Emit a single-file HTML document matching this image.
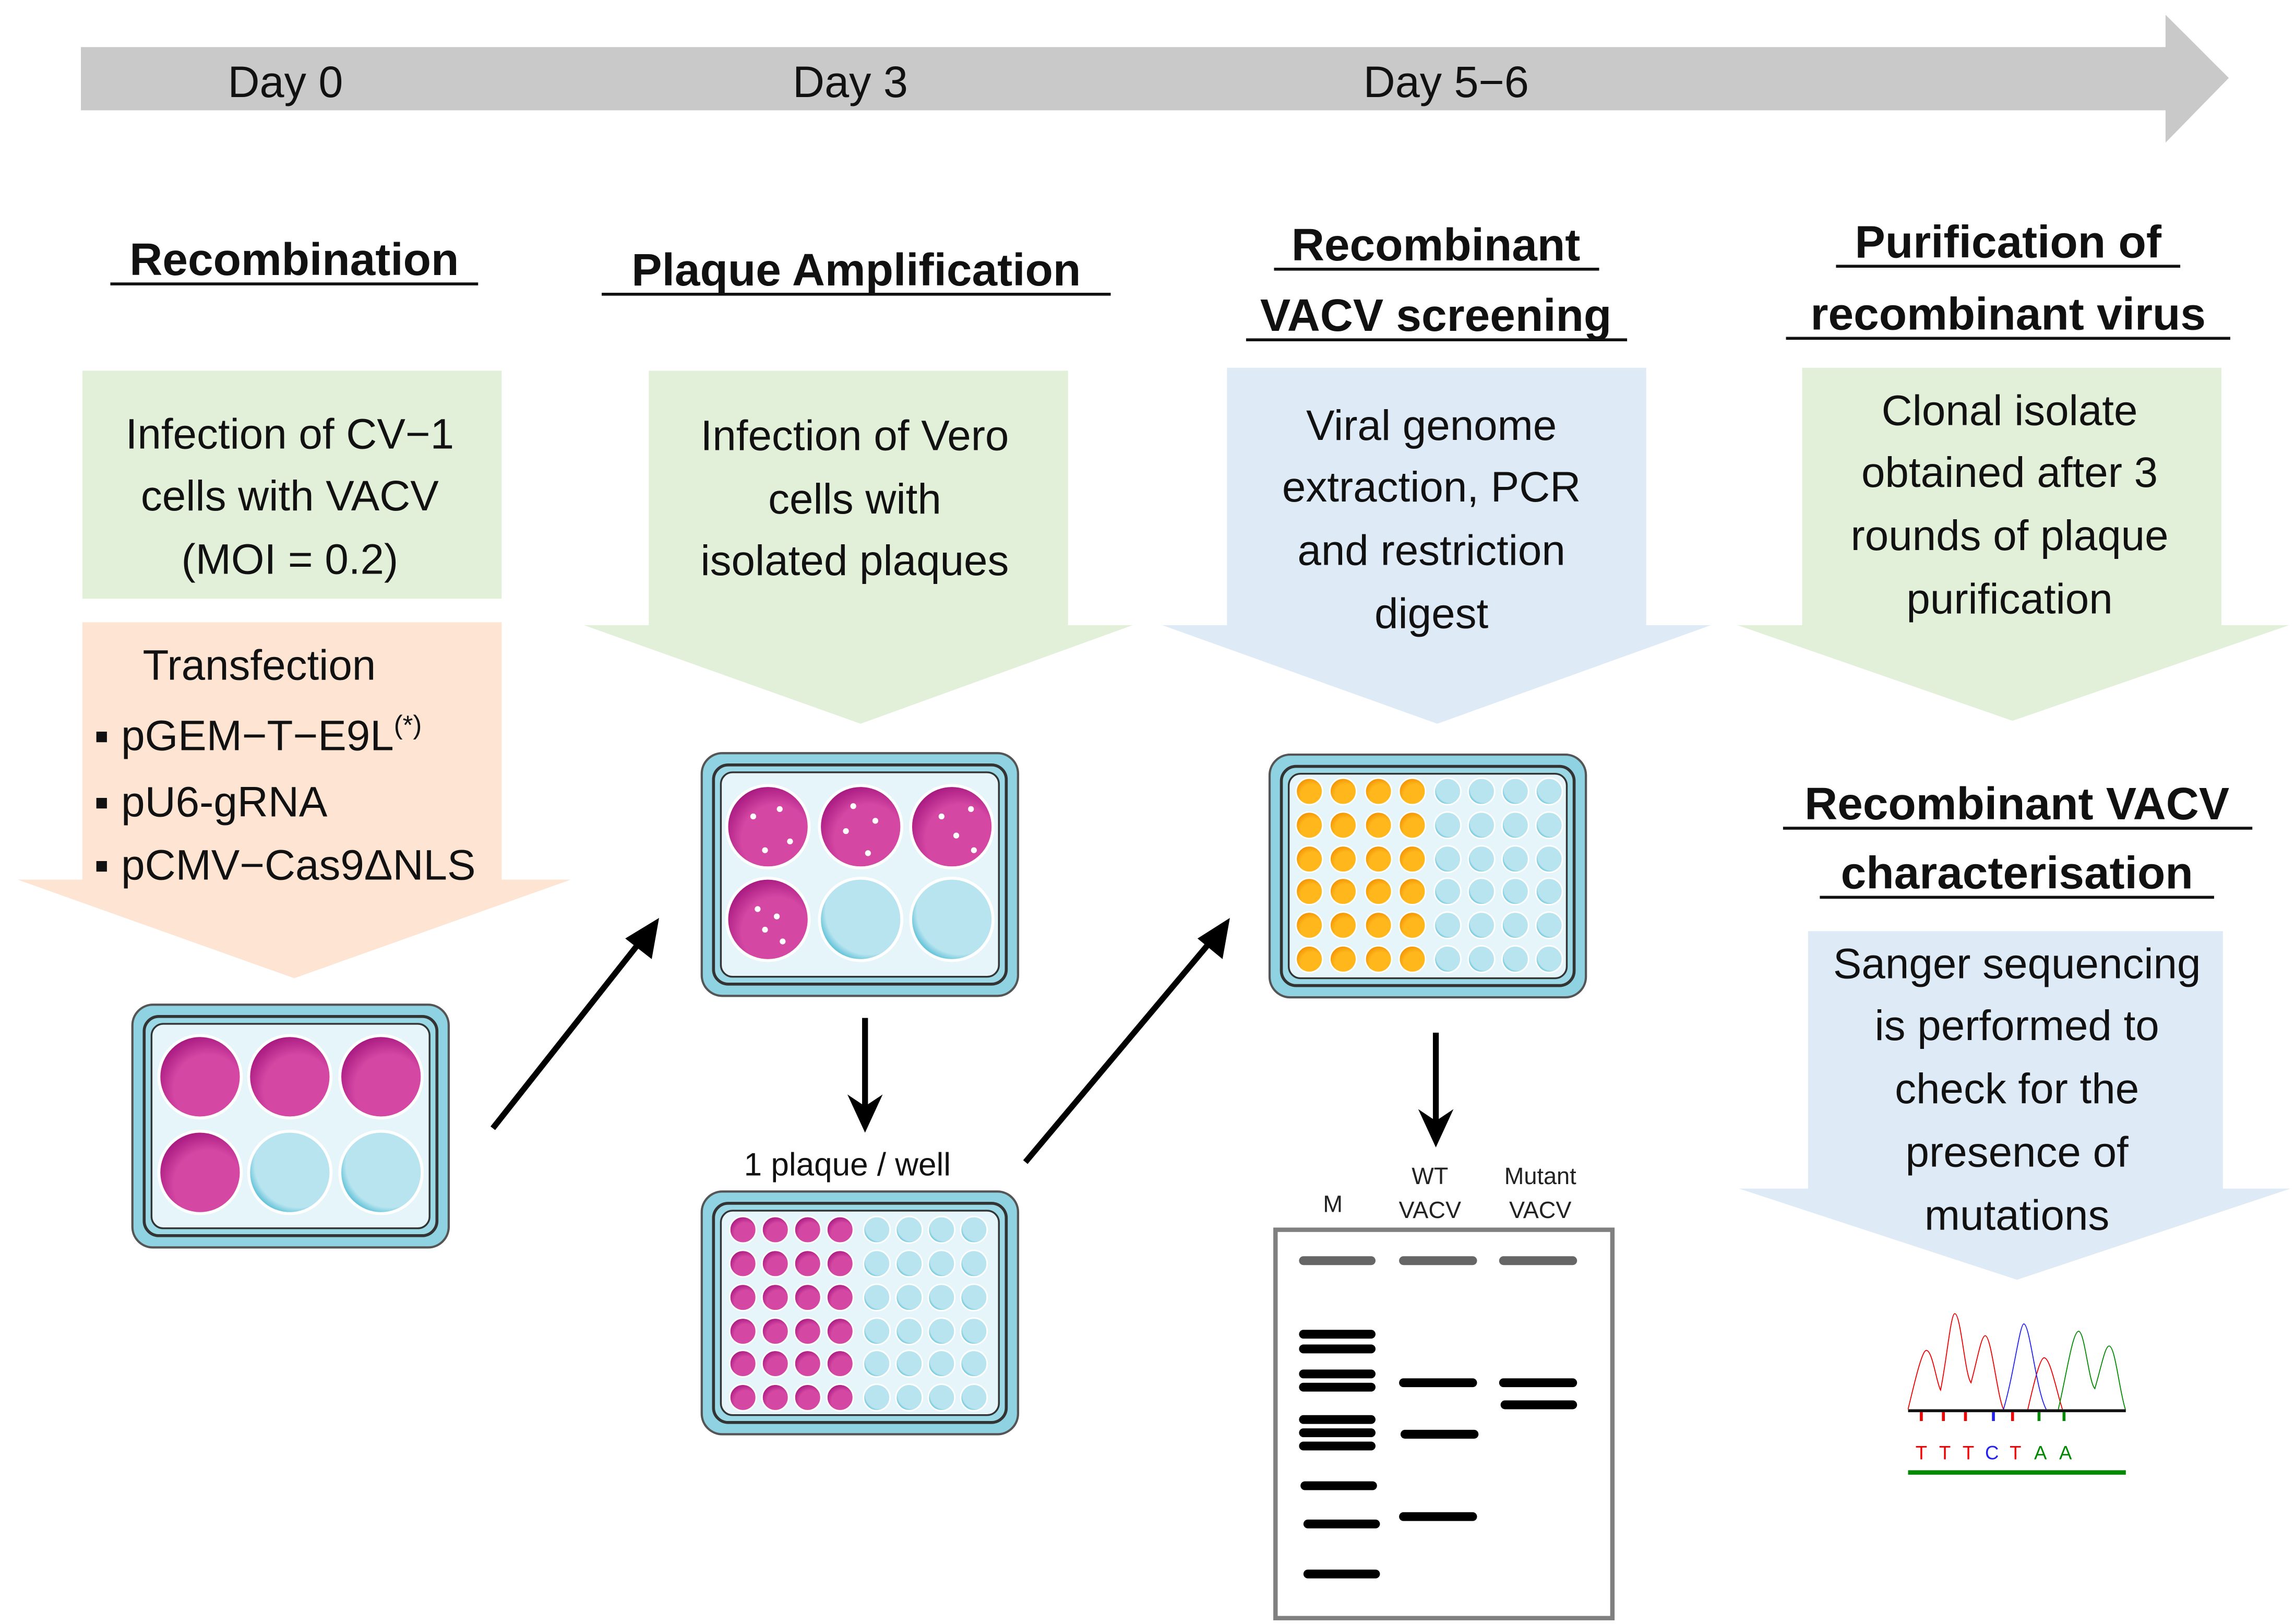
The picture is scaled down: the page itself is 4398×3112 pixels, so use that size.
<!DOCTYPE html>
<html><head><meta charset="utf-8"><style>html,body{margin:0;padding:0;background:#fff}svg{display:block}</style></head>
<body>
<svg width="4398" height="3112" viewBox="0 0 1560 1104" preserveAspectRatio="none" xmlns="http://www.w3.org/2000/svg" font-family="Liberation Sans, sans-serif">
<defs>
<radialGradient id="pk" cx="0.6" cy="0.65" r="0.7"><stop offset="0.6" stop-color="#d447a3"/><stop offset="1" stop-color="#a0127a"/></radialGradient>
<radialGradient id="bl" cx="0.6" cy="0.4" r="0.7"><stop offset="0.75" stop-color="#b8e4ef"/><stop offset="1" stop-color="#1aa7c6"/></radialGradient>
<radialGradient id="or" cx="0.6" cy="0.65" r="0.7"><stop offset="0.6" stop-color="#ffb71c"/><stop offset="1" stop-color="#f08c00"/></radialGradient>
<g id="plate6">
<rect x="0" y="0" width="215" height="165" rx="14" fill="#8fd3e3" stroke="#555" stroke-width="1.5"/>
<rect x="8" y="8" width="199" height="149" rx="10" fill="#9ad8e6" stroke="#333" stroke-width="2"/>
<rect x="13" y="13" width="189" height="139" rx="8" fill="#e6f5f9" stroke="#333" stroke-width="1.2"/>
</g>
</defs>

<!-- timeline -->
<polygon points="55,32 1472,32 1472,10 1515,53 1472,97 1472,75 55,75" fill="#c9c9c9"/>
<g font-size="30" fill="#111" text-anchor="middle">
<text x="194" y="66">Day 0</text><text x="578" y="66">Day 3</text><text x="983" y="66">Day 5−6</text>
</g>

<!-- titles -->
<g font-size="31" font-weight="bold" fill="#111" text-anchor="middle">
<text x="200" y="187">Recombination</text>
<text x="582" y="194">Plaque Amplification</text>
<text x="976" y="177">Recombinant</text>
<text x="976" y="225">VACV screening</text>
<text x="1365" y="175">Purification of</text>
<text x="1365" y="224">recombinant virus</text>
<text x="1371" y="557">Recombinant VACV</text>
<text x="1371" y="604">characterisation</text>
</g>
<g stroke="#111" stroke-width="2">
<line x1="75" y1="193" x2="325" y2="193"/>
<line x1="409" y1="200" x2="755" y2="200"/>
<line x1="866" y1="183" x2="1087" y2="183"/>
<line x1="847" y1="231" x2="1106" y2="231"/>
<line x1="1248" y1="181" x2="1482" y2="181"/>
<line x1="1214" y1="230" x2="1516" y2="230"/>
<line x1="1212" y1="563" x2="1531" y2="563"/>
<line x1="1237" y1="610" x2="1505" y2="610"/>
</g>

<!-- boxes / arrows -->
<rect x="56" y="252" width="285" height="155" fill="#e2f0d9"/>
<polygon points="56,423 341,423 341,598 388,598 200,665 12,598 56,598" fill="#fde4d3"/>
<polygon points="441,252 726,252 726,425 770,425 585,492 397,425 441,425" fill="#e2f0d9"/>
<polygon points="834,250 1119,250 1119,425 1163,425 977,492 790,425 834,425" fill="#deebf7"/>
<polygon points="1225,250 1510,250 1510,425 1556,425 1368,490 1181,425 1225,425" fill="#e2f0d9"/>
<polygon points="1229,633 1511,633 1511,808 1557,808 1371,870 1182,808 1229,808" fill="#deebf7"/>

<g font-size="29" fill="#111" text-anchor="middle">
<text x="197" y="305">Infection of CV−1</text><text x="197" y="347">cells with VACV</text><text x="197" y="390">(MOI = 0.2)</text>
<text x="581" y="306">Infection of Vero</text><text x="581" y="349">cells with</text><text x="581" y="391">isolated plaques</text>
<text x="973" y="299">Viral genome</text><text x="973" y="341">extraction, PCR</text><text x="973" y="384">and restriction</text><text x="973" y="427">digest</text>
<text x="1366" y="289">Clonal isolate</text><text x="1366" y="331">obtained after 3</text><text x="1366" y="374">rounds of plaque</text><text x="1366" y="417">purification</text>
<text x="1371" y="665">Sanger sequencing</text><text x="1371" y="707">is performed to</text><text x="1371" y="750">check for the</text><text x="1371" y="793">presence of</text><text x="1371" y="836">mutations</text>
</g>
<g font-size="29" fill="#111">
<text x="97" y="462">Transfection</text>
<text x="64" y="510">▪ pGEM−T−E9L<tspan font-size="18" dy="-11">(*)</tspan></text>
<text x="64" y="555">▪ pU6-gRNA</text>
<text x="64" y="598">▪ pCMV−Cas9ΔNLS</text>
</g>

<!-- plates -->
<use href="#plate6" x="90" y="683"/>
<g stroke="#fff" stroke-width="2">
<circle cx="136" cy="732" r="28" fill="url(#pk)"/><circle cx="197" cy="732" r="28" fill="url(#pk)"/><circle cx="259" cy="732" r="28" fill="url(#pk)"/>
<circle cx="136" cy="797" r="28" fill="url(#pk)"/><circle cx="197" cy="797" r="28" fill="url(#bl)"/><circle cx="259" cy="797" r="28" fill="url(#bl)"/>
</g>
<use href="#plate6" x="477" y="512"/>
<g stroke="#fff" stroke-width="2">
<circle cx="522" cy="562" r="28" fill="url(#pk)"/><circle cx="585" cy="562" r="28" fill="url(#pk)"/><circle cx="647" cy="562" r="28" fill="url(#pk)"/>
<circle cx="522" cy="625" r="28" fill="url(#pk)"/><circle cx="585" cy="625" r="28" fill="url(#bl)"/><circle cx="647" cy="625" r="28" fill="url(#bl)"/>
</g>
<g fill="#fff">
<circle cx="512" cy="555" r="2"/><circle cx="530" cy="550" r="2"/><circle cx="537" cy="572" r="2"/><circle cx="520" cy="578" r="2"/>
<circle cx="580" cy="548" r="2"/><circle cx="575" cy="565" r="2"/><circle cx="595" cy="558" r="2"/><circle cx="590" cy="580" r="2"/>
<circle cx="640" cy="555" r="2"/><circle cx="660" cy="550" r="2"/><circle cx="650" cy="568" r="2"/><circle cx="662" cy="578" r="2"/>
<circle cx="515" cy="618" r="2"/><circle cx="528" cy="623" r="2"/><circle cx="520" cy="632" r="2"/><circle cx="532" cy="640" r="2"/>
</g>
<use href="#plate6" x="477" y="810"/>
<g stroke="#fff" stroke-width="1">
<g fill="url(#pk)">
<circle cx="505" cy="836" r="9"/><circle cx="527" cy="836" r="9"/><circle cx="549" cy="836" r="9"/><circle cx="571" cy="836" r="9"/>
<circle cx="505" cy="859" r="9"/><circle cx="527" cy="859" r="9"/><circle cx="549" cy="859" r="9"/><circle cx="571" cy="859" r="9"/>
<circle cx="505" cy="882" r="9"/><circle cx="527" cy="882" r="9"/><circle cx="549" cy="882" r="9"/><circle cx="571" cy="882" r="9"/>
<circle cx="505" cy="905" r="9"/><circle cx="527" cy="905" r="9"/><circle cx="549" cy="905" r="9"/><circle cx="571" cy="905" r="9"/>
<circle cx="505" cy="927" r="9"/><circle cx="527" cy="927" r="9"/><circle cx="549" cy="927" r="9"/><circle cx="571" cy="927" r="9"/>
<circle cx="505" cy="950" r="9"/><circle cx="527" cy="950" r="9"/><circle cx="549" cy="950" r="9"/><circle cx="571" cy="950" r="9"/>
</g>
<g fill="url(#bl)">
<circle cx="596" cy="836" r="9"/><circle cx="618" cy="836" r="9"/><circle cx="640" cy="836" r="9"/><circle cx="662" cy="836" r="9"/>
<circle cx="596" cy="859" r="9"/><circle cx="618" cy="859" r="9"/><circle cx="640" cy="859" r="9"/><circle cx="662" cy="859" r="9"/>
<circle cx="596" cy="882" r="9"/><circle cx="618" cy="882" r="9"/><circle cx="640" cy="882" r="9"/><circle cx="662" cy="882" r="9"/>
<circle cx="596" cy="905" r="9"/><circle cx="618" cy="905" r="9"/><circle cx="640" cy="905" r="9"/><circle cx="662" cy="905" r="9"/>
<circle cx="596" cy="927" r="9"/><circle cx="618" cy="927" r="9"/><circle cx="640" cy="927" r="9"/><circle cx="662" cy="927" r="9"/>
<circle cx="596" cy="950" r="9"/><circle cx="618" cy="950" r="9"/><circle cx="640" cy="950" r="9"/><circle cx="662" cy="950" r="9"/>
</g>
</g>
<use href="#plate6" x="863" y="513"/>
<g stroke="#fff" stroke-width="1">
<g fill="url(#or)">
<circle cx="890" cy="538" r="9"/><circle cx="913" cy="538" r="9"/><circle cx="937" cy="538" r="9"/><circle cx="960" cy="538" r="9"/>
<circle cx="890" cy="561" r="9"/><circle cx="913" cy="561" r="9"/><circle cx="937" cy="561" r="9"/><circle cx="960" cy="561" r="9"/>
<circle cx="890" cy="584" r="9"/><circle cx="913" cy="584" r="9"/><circle cx="937" cy="584" r="9"/><circle cx="960" cy="584" r="9"/>
<circle cx="890" cy="606" r="9"/><circle cx="913" cy="606" r="9"/><circle cx="937" cy="606" r="9"/><circle cx="960" cy="606" r="9"/>
<circle cx="890" cy="629" r="9"/><circle cx="913" cy="629" r="9"/><circle cx="937" cy="629" r="9"/><circle cx="960" cy="629" r="9"/>
<circle cx="890" cy="652" r="9"/><circle cx="913" cy="652" r="9"/><circle cx="937" cy="652" r="9"/><circle cx="960" cy="652" r="9"/>
</g>
<g fill="url(#bl)">
<circle cx="984" cy="538" r="9"/><circle cx="1007" cy="538" r="9"/><circle cx="1030" cy="538" r="9"/><circle cx="1053" cy="538" r="9"/>
<circle cx="984" cy="561" r="9"/><circle cx="1007" cy="561" r="9"/><circle cx="1030" cy="561" r="9"/><circle cx="1053" cy="561" r="9"/>
<circle cx="984" cy="584" r="9"/><circle cx="1007" cy="584" r="9"/><circle cx="1030" cy="584" r="9"/><circle cx="1053" cy="584" r="9"/>
<circle cx="984" cy="606" r="9"/><circle cx="1007" cy="606" r="9"/><circle cx="1030" cy="606" r="9"/><circle cx="1053" cy="606" r="9"/>
<circle cx="984" cy="629" r="9"/><circle cx="1007" cy="629" r="9"/><circle cx="1030" cy="629" r="9"/><circle cx="1053" cy="629" r="9"/>
<circle cx="984" cy="652" r="9"/><circle cx="1007" cy="652" r="9"/><circle cx="1030" cy="652" r="9"/><circle cx="1053" cy="652" r="9"/>
</g>
</g>

<!-- arrows -->
<g stroke="#000" stroke-width="4" fill="none">
<line x1="335" y1="767" x2="440" y2="634"/>
<line x1="697" y1="790" x2="828" y2="634"/>
<line x1="588" y1="692" x2="588" y2="758"/>
<line x1="976" y1="702" x2="976" y2="768"/>
</g>
<g fill="#000">
<polygon points="448,624 443,652 425,638"/>
<polygon points="836,624 831,652 814,638"/>
<polygon points="588,770 576,744 588,752 600,744"/>
<polygon points="976,780 964,754 976,762 988,754"/>
</g>
<text x="576" y="799" font-size="22" text-anchor="middle" fill="#111">1 plaque / well</text>

<!-- gel -->
<g font-size="16" fill="#222" text-anchor="middle">
<text x="906" y="824">M</text>
<text x="972" y="805">WT</text><text x="972" y="828">VACV</text>
<text x="1047" y="805">Mutant</text><text x="1047" y="828">VACV</text>
</g>
<rect x="867" y="836" width="229" height="264" fill="#fff" stroke="#808080" stroke-width="3"/>
<g stroke-linecap="round" stroke-width="6" stroke="#666">
<line x1="886" y1="857" x2="932" y2="857"/><line x1="954" y1="857" x2="1001" y2="857"/><line x1="1022" y1="857" x2="1069" y2="857"/>
</g>
<g stroke-linecap="round" stroke-width="6" stroke="#000">
<line x1="886" y1="907" x2="932" y2="907"/><line x1="886" y1="917" x2="932" y2="917"/>
<line x1="886" y1="934" x2="932" y2="934"/><line x1="886" y1="943" x2="932" y2="943"/>
<line x1="886" y1="965" x2="932" y2="965"/><line x1="886" y1="974" x2="932" y2="974"/><line x1="886" y1="983" x2="932" y2="983"/>
<line x1="887" y1="1010" x2="933" y2="1010"/><line x1="889" y1="1036" x2="935" y2="1036"/><line x1="889" y1="1070" x2="935" y2="1070"/>
<line x1="954" y1="940" x2="1001" y2="940"/><line x1="955" y1="975" x2="1002" y2="975"/><line x1="954" y1="1031" x2="1001" y2="1031"/>
<line x1="1022" y1="940" x2="1069" y2="940"/><line x1="1023" y1="955" x2="1069" y2="955"/>
</g>

<!-- chromatogram -->
<g fill="none" stroke-width="1.8" transform="translate(1297,0) scale(1.38,1) translate(-1298,0)">
<path vector-effect="non-scaling-stroke" d="M1298,958 C1302,935 1305,918 1307,918 C1310,918 1312,940 1314,945 C1317,925 1319,893 1321,893 C1324,893 1326,935 1329,940 C1332,925 1334,908 1336,908 C1339,908 1342,950 1345,958 M1357,958 C1360,940 1363,923 1365,923 C1368,923 1371,945 1374,958" stroke="#e00"/>
<path vector-effect="non-scaling-stroke" d="M1345,958 C1350,935 1353,900 1355,900 C1358,900 1361,945 1366,958" stroke="#22e"/>
<path vector-effect="non-scaling-stroke" d="M1372,958 C1376,935 1379,905 1382,905 C1385,905 1387,940 1390,944 C1393,930 1395,915 1397,915 C1400,915 1402,945 1405,958" stroke="#080"/>
</g>
<line x1="1297" y1="959" x2="1445" y2="959" stroke="#111" stroke-width="2"/>
<g stroke-width="2">
<line x1="1306" y1="960" x2="1306" y2="966" stroke="#e00"/><line x1="1321" y1="960" x2="1321" y2="966" stroke="#e00"/><line x1="1336" y1="960" x2="1336" y2="966" stroke="#e00"/>
<line x1="1355" y1="960" x2="1355" y2="966" stroke="#22e"/><line x1="1368" y1="960" x2="1368" y2="966" stroke="#e00"/>
<line x1="1386" y1="960" x2="1386" y2="966" stroke="#080"/><line x1="1403" y1="960" x2="1403" y2="966" stroke="#080"/>
</g>
<g font-size="13" text-anchor="middle">
<text x="1306" y="992" fill="#e00">T</text><text x="1322" y="992" fill="#e00">T</text><text x="1338" y="992" fill="#e00">T</text>
<text x="1354" y="992" fill="#22e">C</text><text x="1370" y="992" fill="#e00">T</text>
<text x="1387" y="992" fill="#080">A</text><text x="1404" y="992" fill="#080">A</text>
</g>
<line x1="1297" y1="1001" x2="1445" y2="1001" stroke="#080" stroke-width="3"/>
</svg>
</body></html>
